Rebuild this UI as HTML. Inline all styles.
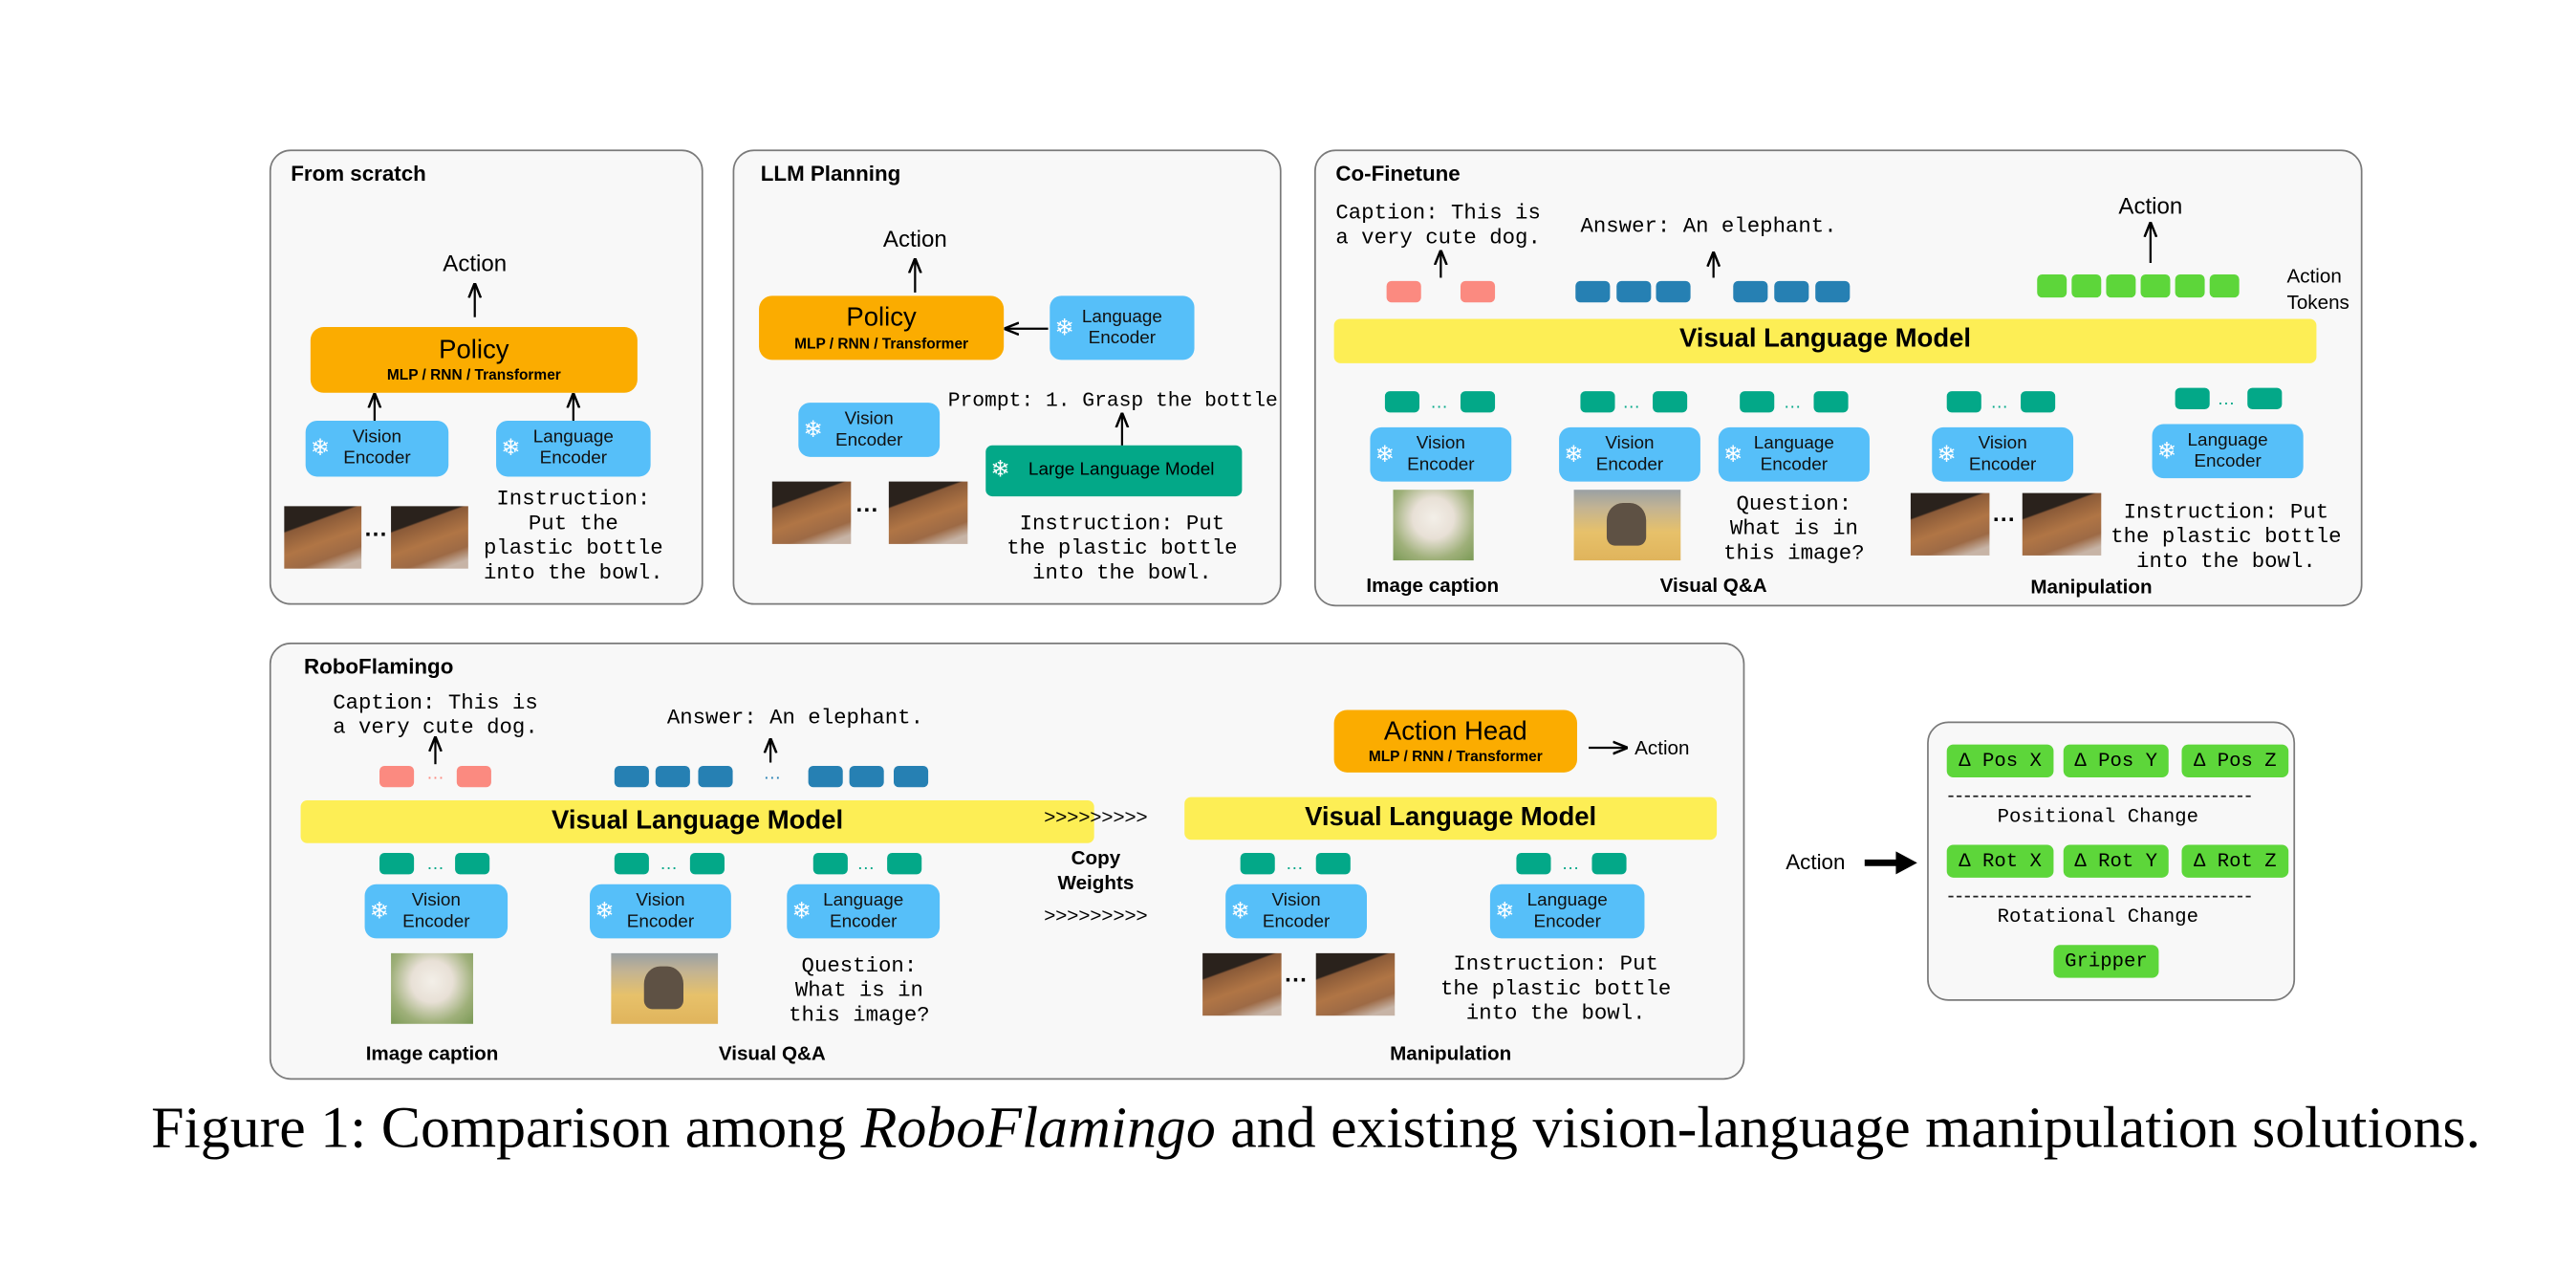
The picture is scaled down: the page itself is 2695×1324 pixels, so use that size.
<!DOCTYPE html>
<html><head><meta charset="utf-8">
<style>
html,body{margin:0;padding:0;background:#fff;}
#w{width:2695px;height:1324px;overflow:hidden;position:relative;}
#s{position:absolute;left:0;top:0;width:1568px;height:771px;transform:scale(1.71875);transform-origin:0 0;font-family:"Liberation Sans",sans-serif;}
.p{position:absolute;border:1.2px solid #7a7a7a;border-radius:13px;background:#f8f8f8;box-sizing:border-box;}
.t{position:absolute;white-space:nowrap;line-height:1;}
.ti{font-weight:bold;font-size:13px;}
.c{transform:translateX(-50%);text-align:center;}
.m{font-family:"Liberation Mono",monospace;font-size:13px;line-height:15px;}
.b{position:absolute;box-sizing:border-box;display:flex;align-items:center;justify-content:center;flex-direction:column;text-align:center;line-height:1.15;}
.enc{background:#56bff9;border-radius:7px;font-size:11px;color:#111;}
.enc .sf{position:absolute;left:3px;top:50%;transform:translateY(-50%);color:#fff;font-size:14px;font-family:"DejaVu Sans",sans-serif;}
.pol{background:#fbac00;border-radius:8px;}
.pol .a{font-size:16px;}
.pol .s{font-size:9px;font-weight:bold;}
.vlm{background:#fdee55;border-radius:4px;font-weight:bold;font-size:16px;}
.tk{position:absolute;width:21px;height:13px;border-radius:3px;}
.te{background:#03a888;}
.pk{background:#fb8a80;}
.bl{background:#2680b3;}
.gr{background:#5dd63a;width:18px;height:14px;}
.img{position:absolute;}
.rob{background:linear-gradient(160deg,#2a221c 0%,#2a221c 28%,#8a5a38 30%,#b07545 55%,#9d6a45 75%,#c7b4a6 90%);}
.dog{background:radial-gradient(circle at 50% 40%,#f3efe8 0%,#e8e0d6 35%,#9fb07a 70%,#7a9a55 100%);}
.ele{background:linear-gradient(180deg,#9aa0a4 0%,#c2b393 25%,#e7c16a 60%,#e0b45c 100%);}
.ele:after{content:"";position:absolute;left:30%;top:18%;width:38%;height:62%;background:#5e5144;border-radius:40% 40% 20% 20%;}
.gb{position:absolute;background:#5dd63a;border-radius:4px;font-family:"Liberation Mono",monospace;font-size:12px;display:flex;align-items:center;justify-content:center;height:20px;}
.lb{font-weight:bold;font-size:12px;}
</style></head><body>
<div id="w"><div id="s">

<!-- Panel 1 -->
<div class="p" style="left:164px;top:91px;width:264px;height:277px;"></div>
<div class="t ti" style="left:177px;top:99px;">From scratch</div>
<div class="t c" style="left:289px;top:153px;font-size:14px;">Action</div>
<div class="b pol" style="left:189px;top:199px;width:199px;height:40px;"><span class="a">Policy</span><span class="s">MLP / RNN / Transformer</span></div>
<div class="b enc" style="left:186px;top:256px;width:87px;height:34px;"><span class="sf">❄</span>Vision<br>Encoder</div>
<div class="b enc" style="left:302px;top:256px;width:94px;height:34px;"><span class="sf">❄</span>Language<br>Encoder</div>
<div class="img rob" style="left:173px;top:308px;width:47px;height:38px;"></div>
<div class="t" style="left:222px;top:318px;font-weight:bold;font-size:14px;">···</div>
<div class="img rob" style="left:238px;top:308px;width:47px;height:38px;"></div>
<div class="t c m" style="left:349px;top:296px;">Instruction:<br>Put the<br>plastic bottle<br>into the bowl.</div>

<!-- Panel 2 -->
<div class="p" style="left:446px;top:91px;width:334px;height:277px;"></div>
<div class="t ti" style="left:463px;top:99px;">LLM Planning</div>
<div class="t c" style="left:557px;top:138px;font-size:14px;">Action</div>
<div class="b pol" style="left:462px;top:180px;width:149px;height:39px;"><span class="a">Policy</span><span class="s">MLP / RNN / Transformer</span></div>
<div class="b enc" style="left:639px;top:180px;width:88px;height:39px;"><span class="sf">❄</span>Language<br>Encoder</div>
<div class="b enc" style="left:486px;top:245px;width:86px;height:33px;"><span class="sf">❄</span>Vision<br>Encoder</div>
<div class="t m" style="left:577px;top:237px;font-size:12.4px;">Prompt: 1. Grasp the bottle</div>
<div class="b" style="left:600px;top:271px;width:156px;height:31px;background:#03a888;border-radius:4px;font-size:11px;"><span style="position:absolute;left:3px;color:#fff;font-size:14px;font-family:'DejaVu Sans',sans-serif;">❄</span>&nbsp;&nbsp;&nbsp;Large Language Model</div>
<div class="img rob" style="left:470px;top:293px;width:48px;height:38px;"></div>
<div class="t" style="left:521px;top:303px;font-weight:bold;font-size:14px;">···</div>
<div class="img rob" style="left:541px;top:293px;width:48px;height:38px;"></div>
<div class="t c m" style="left:683px;top:311px;">Instruction: Put<br>the plastic bottle<br>into the bowl.</div>

<!-- Panel 3 -->
<div class="p" style="left:800px;top:91px;width:638px;height:278px;"></div>
<div class="t ti" style="left:813px;top:99px;">Co-Finetune</div>
<div class="t m" style="left:813px;top:122px;">Caption: This is<br>a very cute dog.</div>
<div class="tk pk" style="left:844px;top:171px;"></div>
<div class="tk pk" style="left:889px;top:171px;"></div>
<div class="t m" style="left:962px;top:130px;">Answer: An elephant.</div>
<div class="tk bl" style="left:959px;top:171px;"></div>
<div class="tk bl" style="left:984px;top:171px;"></div>
<div class="tk bl" style="left:1008px;top:171px;"></div>
<div class="tk bl" style="left:1055px;top:171px;"></div>
<div class="tk bl" style="left:1080px;top:171px;"></div>
<div class="tk bl" style="left:1105px;top:171px;"></div>
<div class="t c" style="left:1309px;top:118px;font-size:14px;">Action</div>
<div class="tk gr" style="left:1240px;top:167px;"></div>
<div class="tk gr" style="left:1261px;top:167px;"></div>
<div class="tk gr" style="left:1282px;top:167px;"></div>
<div class="tk gr" style="left:1303px;top:167px;"></div>
<div class="tk gr" style="left:1324px;top:167px;"></div>
<div class="tk gr" style="left:1345px;top:167px;"></div>
<div class="t" style="left:1392px;top:160px;font-size:12px;line-height:16px;">Action<br>Tokens</div>
<div class="b vlm" style="left:812px;top:194px;width:598px;height:27px;">Visual Language Model</div>
<div class="tk te" style="left:843px;top:238px;"></div><div class="t c" style="left:876px;top:240px;font-size:11px;color:#03a888;">…</div><div class="tk te" style="left:889px;top:238px;"></div>
<div class="tk te" style="left:962px;top:238px;"></div><div class="t c" style="left:993px;top:240px;font-size:11px;color:#03a888;">…</div><div class="tk te" style="left:1006px;top:238px;"></div>
<div class="tk te" style="left:1059px;top:238px;"></div><div class="t c" style="left:1091px;top:240px;font-size:11px;color:#03a888;">…</div><div class="tk te" style="left:1104px;top:238px;"></div>
<div class="tk te" style="left:1185px;top:238px;"></div><div class="t c" style="left:1217px;top:240px;font-size:11px;color:#03a888;">…</div><div class="tk te" style="left:1230px;top:238px;"></div>
<div class="tk te" style="left:1324px;top:236px;"></div><div class="t c" style="left:1355px;top:238px;font-size:11px;color:#03a888;">…</div><div class="tk te" style="left:1368px;top:236px;"></div>
<div class="b enc" style="left:834px;top:260px;width:86px;height:33px;"><span class="sf">❄</span>Vision<br>Encoder</div>
<div class="b enc" style="left:949px;top:260px;width:86px;height:33px;"><span class="sf">❄</span>Vision<br>Encoder</div>
<div class="b enc" style="left:1046px;top:260px;width:92px;height:33px;"><span class="sf">❄</span>Language<br>Encoder</div>
<div class="b enc" style="left:1176px;top:260px;width:86px;height:33px;"><span class="sf">❄</span>Vision<br>Encoder</div>
<div class="b enc" style="left:1310px;top:258px;width:92px;height:33px;"><span class="sf">❄</span>Language<br>Encoder</div>
<div class="img dog" style="left:848px;top:298px;width:49px;height:43px;"></div>
<div class="img ele" style="left:958px;top:298px;width:65px;height:43px;"></div>
<div class="t c m" style="left:1092px;top:299px;">Question:<br>What is in<br>this image?</div>
<div class="img rob" style="left:1163px;top:300px;width:48px;height:38px;"></div>
<div class="t" style="left:1213px;top:309px;font-weight:bold;font-size:14px;">···</div>
<div class="img rob" style="left:1231px;top:300px;width:48px;height:38px;"></div>
<div class="t c m" style="left:1355px;top:304px;">Instruction: Put<br>the plastic bottle<br>into the bowl.</div>
<div class="t c lb" style="left:872px;top:350px;">Image caption</div>
<div class="t c lb" style="left:1043px;top:350px;">Visual Q&amp;A</div>
<div class="t c lb" style="left:1273px;top:351px;">Manipulation</div>

<!-- Panel 4 -->
<div class="p" style="left:164px;top:391px;width:898px;height:266px;"></div>
<div class="t ti" style="left:185px;top:399px;">RoboFlamingo</div>
<div class="t c m" style="left:265px;top:420px;">Caption: This is<br>a very cute dog.</div>
<div class="tk pk" style="left:231px;top:466px;"></div><div class="t c" style="left:265px;top:466px;font-size:11px;color:#fb8a80;">…</div><div class="tk pk" style="left:278px;top:466px;"></div>
<div class="t m" style="left:406px;top:429px;">Answer: An elephant.</div>
<div class="tk bl" style="left:374px;top:466px;"></div>
<div class="tk bl" style="left:399px;top:466px;"></div>
<div class="tk bl" style="left:425px;top:466px;"></div>
<div class="t c" style="left:470px;top:466px;font-size:11px;color:#2680b3;">…</div>
<div class="tk bl" style="left:492px;top:466px;"></div>
<div class="tk bl" style="left:517px;top:466px;"></div>
<div class="tk bl" style="left:544px;top:466px;"></div>
<div class="b vlm" style="left:183px;top:487px;width:483px;height:26px;">Visual Language Model</div>
<div class="t c" style="left:667px;top:491px;font-size:12px;">&gt;&gt;&gt;&gt;&gt;&gt;&gt;&gt;&gt;</div>
<div class="t c lb" style="left:667px;top:515px;line-height:15px;">Copy<br>Weights</div>
<div class="t c" style="left:667px;top:551px;font-size:12px;">&gt;&gt;&gt;&gt;&gt;&gt;&gt;&gt;&gt;</div>
<div class="b pol" style="left:812px;top:432px;width:148px;height:38px;"><span class="a">Action Head</span><span class="s">MLP / RNN / Transformer</span></div>
<div class="t" style="left:995px;top:449px;font-size:12px;">Action</div>
<div class="b vlm" style="left:721px;top:485px;width:324px;height:26px;">Visual Language Model</div>
<div class="tk te" style="left:231px;top:519px;"></div><div class="t c" style="left:265px;top:521px;font-size:11px;color:#03a888;">…</div><div class="tk te" style="left:277px;top:519px;"></div>
<div class="tk te" style="left:374px;top:519px;"></div><div class="t c" style="left:407px;top:521px;font-size:11px;color:#03a888;">…</div><div class="tk te" style="left:420px;top:519px;"></div>
<div class="tk te" style="left:495px;top:519px;"></div><div class="t c" style="left:527px;top:521px;font-size:11px;color:#03a888;">…</div><div class="tk te" style="left:540px;top:519px;"></div>
<div class="tk te" style="left:755px;top:519px;"></div><div class="t c" style="left:788px;top:521px;font-size:11px;color:#03a888;">…</div><div class="tk te" style="left:801px;top:519px;"></div>
<div class="tk te" style="left:923px;top:519px;"></div><div class="t c" style="left:956px;top:521px;font-size:11px;color:#03a888;">…</div><div class="tk te" style="left:969px;top:519px;"></div>
<div class="b enc" style="left:222px;top:538px;width:87px;height:33px;"><span class="sf">❄</span>Vision<br>Encoder</div>
<div class="b enc" style="left:359px;top:538px;width:86px;height:33px;"><span class="sf">❄</span>Vision<br>Encoder</div>
<div class="b enc" style="left:479px;top:538px;width:93px;height:33px;"><span class="sf">❄</span>Language<br>Encoder</div>
<div class="b enc" style="left:746px;top:538px;width:86px;height:33px;"><span class="sf">❄</span>Vision<br>Encoder</div>
<div class="b enc" style="left:907px;top:538px;width:94px;height:33px;"><span class="sf">❄</span>Language<br>Encoder</div>
<div class="img dog" style="left:238px;top:580px;width:50px;height:43px;"></div>
<div class="img ele" style="left:372px;top:580px;width:65px;height:43px;"></div>
<div class="t c m" style="left:523px;top:580px;">Question:<br>What is in<br>this image?</div>
<div class="img rob" style="left:732px;top:580px;width:48px;height:38px;"></div>
<div class="t" style="left:782px;top:589px;font-weight:bold;font-size:14px;">···</div>
<div class="img rob" style="left:801px;top:580px;width:48px;height:38px;"></div>
<div class="t c m" style="left:947px;top:579px;">Instruction: Put<br>the plastic bottle<br>into the bowl.</div>
<div class="t c lb" style="left:263px;top:635px;">Image caption</div>
<div class="t c lb" style="left:470px;top:635px;">Visual Q&amp;A</div>
<div class="t c lb" style="left:883px;top:635px;">Manipulation</div>

<!-- Panel 5 -->
<div class="t" style="left:1087px;top:518px;font-size:13px;">Action</div>
<div class="p" style="left:1173px;top:439px;width:224px;height:170px;"></div>
<div class="gb" style="left:1185px;top:453px;width:65px;">Δ Pos X</div>
<div class="gb" style="left:1256px;top:453px;width:64px;">Δ Pos Y</div>
<div class="gb" style="left:1328px;top:453px;width:65px;">Δ Pos Z</div>
<div style="position:absolute;left:1186px;top:484px;width:184px;border-top:1.2px dashed #222;"></div>
<div class="t c m" style="left:1277px;top:490px;font-size:12px;">Positional Change</div>
<div class="gb" style="left:1185px;top:514px;width:65px;">Δ Rot X</div>
<div class="gb" style="left:1256px;top:514px;width:64px;">Δ Rot Y</div>
<div class="gb" style="left:1328px;top:514px;width:65px;">Δ Rot Z</div>
<div style="position:absolute;left:1186px;top:545px;width:184px;border-top:1.2px dashed #222;"></div>
<div class="t c m" style="left:1277px;top:551px;font-size:12px;">Rotational Change</div>
<div class="gb" style="left:1250px;top:575px;width:64px;">Gripper</div>

<svg style="position:absolute;left:0;top:0;" width="1568" height="771">
<defs><marker id="ah" viewBox="0 0 10 10" refX="9" refY="5" markerWidth="7" markerHeight="7" orient="auto-start-reverse"><path d="M0,1 L10,5 L0,9" fill="none" stroke="#000" stroke-width="1.6"/></marker></defs>
<g stroke="#000" stroke-width="1.3" marker-end="url(#ah)">
<line x1="289" y1="193" x2="289" y2="173"/>
<line x1="228" y1="256" x2="228" y2="240"/>
<line x1="349" y1="256" x2="349" y2="240"/>
<line x1="557" y1="178" x2="557" y2="158"/>
<line x1="638" y1="200" x2="612" y2="200"/>
<line x1="683" y1="271" x2="683" y2="252"/>
<line x1="877" y1="169" x2="877" y2="153"/>
<line x1="1043" y1="169" x2="1043" y2="154"/>
<line x1="1309" y1="160" x2="1309" y2="136"/>
<line x1="265" y1="465" x2="265" y2="449"/>
<line x1="469" y1="464" x2="469" y2="450"/>
<line x1="967" y1="455" x2="990" y2="455"/>
</g>
<line x1="1135" y1="525" x2="1156" y2="525" stroke="#000" stroke-width="4"/>
<polygon points="1154,518 1167,525 1154,532" fill="#000"/>
</svg>

<div class="t" style="left:92px;top:668px;font-family:'Liberation Serif',serif;font-size:36px;">Figure 1: Comparison among <i>RoboFlamingo</i> and existing vision-language manipulation solutions.</div>

</div></div>
</body></html>
